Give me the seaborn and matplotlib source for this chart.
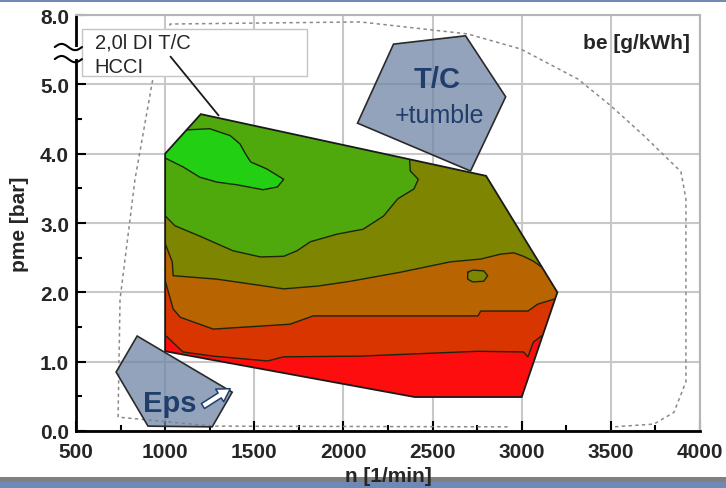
import numpy as np
import pandas as pd
import matplotlib
matplotlib.use('Agg')
import matplotlib.pyplot as plt
from matplotlib.patches import Polygon, Rectangle
import seaborn as sns

# betriebsbereich HCCI (n in 1/min, pme in bar)
range_n = [1000, 1200, 2800, 3200, 3000, 2400, 1000]
range_pme = [4.0, 4.57, 3.68, 2.0, 0.49, 0.49, 1.15]

# be-isolinien, von unten nach oben (oberhalb jeder linie die naechste farbe)
iso5_n = [960, 1010, 1100, 1270, 1575, 1665, 2095, 2755, 3010, 3035, 3065, 3110, 3280]
iso5_pme = [1.43, 1.36, 1.14, 1.08, 1.01, 1.07, 1.08, 1.15, 1.14, 1.07, 1.28, 1.37, 1.47]

iso4_n = [960, 990, 1045, 1085, 1270, 1700, 1830, 2095, 2755, 2770, 3035, 3090, 3180, 3280]
iso4_pme = [2.29, 2.26, 1.76, 1.64, 1.47, 1.54, 1.66, 1.66, 1.66, 1.73, 1.73, 1.83, 1.90, 1.90]

iso3_n = [960, 990, 1040, 1045, 1290, 1480, 1665, 1855, 2040, 2320, 2600, 2770, 2880, 2955,
          3010, 3065, 3125, 3280]
iso3_pme = [2.80, 2.77, 2.44, 2.24, 2.19, 2.12, 2.05, 2.09, 2.16, 2.29, 2.44, 2.48, 2.55, 2.57,
            2.52, 2.45, 2.34, 2.20]

iso2_n = [900, 990, 1055, 1195, 1380, 1535, 1665, 1740, 1815, 1965, 2110, 2225, 2305, 2395,
          2420, 2375, 2350]
iso2_pme = [3.13, 3.13, 2.96, 2.81, 2.60, 2.51, 2.52, 2.60, 2.73, 2.84, 2.91, 3.10, 3.35, 3.49,
            3.63, 3.75, 4.80]

# bestwert-insel und kleine insel rechts
blob_n = [960, 1060, 1100, 1250, 1365, 1420, 1450, 1480, 1570, 1665, 1630, 1550, 1405, 1290,
          1195, 1100, 990]
blob_pme = [3.95, 4.45, 4.34, 4.36, 4.26, 4.14, 4.00, 3.88, 3.78, 3.63, 3.52, 3.48, 3.55, 3.59,
            3.66, 3.81, 3.95]
island_n = [2697, 2725, 2787, 2809, 2787, 2725, 2697]
island_pme = [2.29, 2.32, 2.31, 2.24, 2.16, 2.15, 2.19]

band_colors = ['#fd0d0d', '#d93500', '#b86400', '#7e8500', '#4fa90d', '#23cf13']

# volllastlinie (gestrichelt), zwei stuecke
env_n = [736, 747, 831, 933, 1028, 2095, 2697, 2994, 3315, 3500, 3685, 3893, 3921, 3921, 3921,
         3854, 3742, 3517,
         2921, 1270, 860, 736]
env_pme = [0.20, 1.90, 3.63, 5.32, 7.61, 7.70, 7.18, 6.53, 5.23, 4.69, 4.26, 3.74, 3.35, 1.90,
           0.71, 0.27, 0.10, 0.06,
           0.06, 0.07, 0.17, 0.20]
env_seg = [0] * 18 + [1] * 4

# markierte bereiche
tc_n = [2281, 2685, 2910, 2713, 2079]
tc_pme = [6.74, 7.10, 4.82, 3.75, 4.44]
eps_n = [843, 1376, 1264, 904, 725]
eps_pme = [1.37, 0.56, 0.06, 0.07, 0.85]

x_ticks = [500, 1000, 1500, 2000, 2500, 3000, 3500, 4000]
y_ticks = [0, 1, 2, 3, 4, 5, 8]
y_ticklabels = ['0.0', '1.0', '2.0', '3.0', '4.0', '5.0', '8.0']


def fwd(y):
    y = np.asarray(y, dtype=float)
    return np.where(y <= 5, y, 5 + (y - 5) / 3)


def inv(u):
    u = np.asarray(u, dtype=float)
    return np.where(u <= 5, u, 5 + (u - 5) * 3)


sns.set_style('white')
plt.rcParams['font.family'] = ['Liberation Sans', 'DejaVu Sans']

fig = plt.figure(figsize=(7.26, 4.89), dpi=100)
ax = fig.add_axes([76 / 726, 57 / 489, 624 / 726, 416 / 489])
ax.set_yscale('function', functions=(fwd, inv))

navy = '#1f3e6b'
dark = '#1a1a1a'

# volllastlinie
env = pd.DataFrame({'n': env_n, 'pme': env_pme, 'seg': env_seg})
k = len(ax.lines)
sns.lineplot(data=env, x='n', y='pme', units='seg', estimator=None, sort=False,
             color='#8a8a8a', linewidth=1.1, ax=ax)
for ln in ax.lines[k:]:
    ln.set_linestyle((0, (2.2, 2.2)))
    ln.set_zorder(1.5)

# kennfeld, auf betriebsbereich beschnitten
clip = Polygon(np.column_stack([range_n, range_pme]), closed=True, transform=ax.transData)
ax.fill(range_n, range_pme, color=band_colors[0], lw=0, zorder=2)

top = 4.9
for (bn, bp), col in zip([(iso5_n, iso5_pme), (iso4_n, iso4_pme), (iso3_n, iso3_pme)],
                         band_colors[1:4]):
    pn = list(bn) + [bn[-1], bn[0]]
    pp = list(bp) + [top, top]
    for p in ax.fill(pn, pp, color=col, lw=0, zorder=2):
        p.set_clip_path(clip)

for p in ax.fill(island_n, island_pme, color=band_colors[3], lw=0, zorder=2):
    p.set_clip_path(clip)
pn = list(iso2_n) + [iso2_n[-1], iso2_n[0]]
pp = list(iso2_pme) + [top, top]
for p in ax.fill(pn, pp, color=band_colors[4], lw=0, zorder=2):
    p.set_clip_path(clip)
for p in ax.fill(blob_n, blob_pme, color=band_colors[5], lw=0, zorder=2):
    p.set_clip_path(clip)

# isolinien
k = len(ax.lines)
for bn, bp in [(iso5_n, iso5_pme), (iso4_n, iso4_pme), (iso3_n, iso3_pme), (iso2_n, iso2_pme),
               (island_n + island_n[:1], island_pme + island_pme[:1]),
               (blob_n + blob_n[:1], blob_pme + blob_pme[:1])]:
    sns.lineplot(x=bn, y=bp, sort=False, estimator=None, color='#1c260c', linewidth=1.0, ax=ax)
for ln in ax.lines[k:]:
    ln.set_clip_path(clip)
    ln.set_zorder(3)

ax.add_patch(Polygon(np.column_stack([range_n, range_pme]), closed=True, fill=False,
                     ec=dark, lw=1.3, zorder=4))

# T/C und Eps bereiche
for xs, ys in [(tc_n, tc_pme), (eps_n, eps_pme)]:
    ax.fill(xs, ys, fc=(0.435, 0.518, 0.651, 0.75), ec='#2a2a2a', lw=1.2, zorder=5)
ax.text(2528, 4.96, 'T/C', ha='center', va='baseline', fontsize=21, fontweight='bold',
        color=navy, zorder=6)
ax.text(2539, 4.46, '+tumble', ha='center', va='baseline', fontsize=18, color=navy, zorder=6)
ax.text(876, 0.29, 'Eps', ha='left', va='baseline', fontsize=21, fontweight='bold',
        color=navy, zorder=6)
ax.annotate('', xy=(1365, 0.61), xytext=(1212, 0.36),
            arrowprops=dict(arrowstyle='simple,head_length=0.75,head_width=0.9,tail_width=0.35',
                            fc='white', ec=navy, lw=1.1, mutation_scale=12,
                            shrinkA=0, shrinkB=0), zorder=6)

# beschriftungskasten
ax.add_patch(Rectangle((0.0096, 0.853), 0.3606, 0.113, transform=ax.transAxes,
                       fc='white', ec='#c4c4c4', lw=1, zorder=6))
ax.text(0.030, 0.935, '2,0l DI T/C', transform=ax.transAxes, ha='left', va='center',
        fontsize=14.5, zorder=7)
ax.text(0.030, 0.877, 'HCCI', transform=ax.transAxes, ha='left', va='center',
        fontsize=14.5, zorder=7)
ax.plot([1030, 1300], [6.2, 4.55], color=dark, lw=1.3, zorder=8)

ax.text(0.984, 0.933, 'be [g/kWh]', transform=ax.transAxes, ha='right', va='center',
        fontsize=15, fontweight='bold', zorder=7)

# achsen
ax.set_xlim(500, 4000)
ax.set_ylim(0, 8)
ax.set_xticks(x_ticks)
ax.set_xticks(range(750, 4000, 500), minor=True)
ax.set_yticks(y_ticks)
ax.set_yticklabels(y_ticklabels)
ax.set_yticks(np.arange(0.5, 5, 1.0), minor=True)
ax.tick_params(which='both', direction='in', bottom=True, left=True, top=False, right=False,
               color='black', width=1.5)
ax.tick_params(which='major', length=7)
ax.tick_params(which='minor', length=4)
ax.tick_params(axis='x', which='major', labelsize=15, pad=8)
ax.tick_params(axis='y', which='major', labelsize=15, pad=5)
for lab in ax.get_xticklabels() + ax.get_yticklabels():
    lab.set_fontweight('bold')

ax.grid(True, which='major', color='#c8c8c8', lw=1.5)
ax.set_axisbelow(True)
for s in ['left', 'bottom']:
    ax.spines[s].set_color('black')
    ax.spines[s].set_linewidth(2)
for s in ['top', 'right']:
    ax.spines[s].set_color('#b5b5b5')
    ax.spines[s].set_linewidth(1.5)

ax.set_xlabel('n [1/min]', fontsize=15, fontweight='bold')
ax.set_ylabel('pme [bar]', fontsize=15, fontweight='bold')
ax.xaxis.set_label_coords(0.5, -0.106)
ax.xaxis.label.set_va('center')
ax.yaxis.set_label_coords(-0.0913, 0.5)
ax.yaxis.label.set_va('center')

# achsenbruch-zeichen
ax.add_patch(Rectangle((-0.012, 0.894), 0.02, 0.029, transform=ax.transAxes, fc='white',
                       ec='none', zorder=10, clip_on=False))
tx = np.linspace(-0.034, 0.0096, 40)
for yc in [0.923, 0.894]:
    ax.plot(tx, yc + 0.0075 * np.sin((tx - tx[0]) / (tx[-1] - tx[0]) * 2 * np.pi),
            transform=ax.transAxes, color='black', lw=1.5, clip_on=False, zorder=11)

# blaue balken oben/unten
fig.add_artist(Rectangle((0, 1 - 3 / 489), 1, 3 / 489, transform=fig.transFigure,
                         fc='#7189b3', ec='none', zorder=-1))
fig.add_artist(Rectangle((0, 6 / 489), 1, 5 / 489, transform=fig.transFigure,
                         fc='#808080', ec='none', zorder=-1))
fig.add_artist(Rectangle((0, 0), 1, 6 / 489, transform=fig.transFigure,
                         fc='#6d89b6', ec='none', zorder=-1))

fig.savefig('out.png', dpi=100)
